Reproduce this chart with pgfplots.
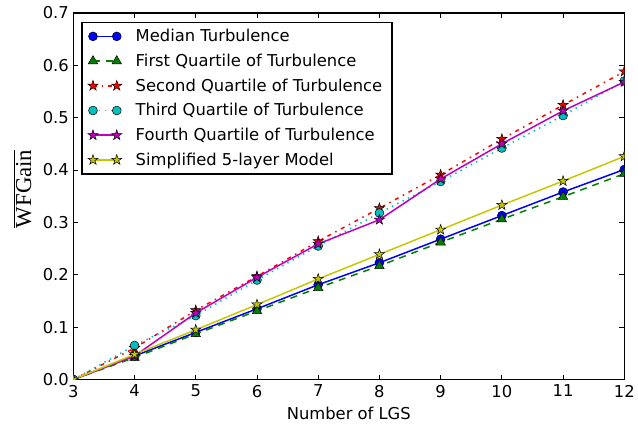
\documentclass[border=0pt]{standalone}
\usepackage{pgfplots}
\pgfplotsset{compat=1.18}
\usepackage{fontspec}
\setmainfont{DejaVu Sans}
\newfontfamily\serifl{Liberation Serif}
\definecolor{mblue}{rgb}{0,0,1}
\definecolor{mgreen}{rgb}{0,0.5,0}
\definecolor{mred}{rgb}{1,0,0}
\definecolor{mcyan}{rgb}{0,0.75,0.75}
\definecolor{mmag}{rgb}{0.75,0,0.75}
\definecolor{myel}{rgb}{0.78,0.78,0}
\pgfdeclareplotmark{fstar}{%
  \pgfpathmoveto{\pgfpointpolar{90}{1.2\pgfplotmarksize}}%
  \pgfpathlineto{\pgfpointpolar{126}{0.46\pgfplotmarksize}}%
  \pgfpathlineto{\pgfpointpolar{162}{1.2\pgfplotmarksize}}%
  \pgfpathlineto{\pgfpointpolar{198}{0.46\pgfplotmarksize}}%
  \pgfpathlineto{\pgfpointpolar{234}{1.2\pgfplotmarksize}}%
  \pgfpathlineto{\pgfpointpolar{270}{0.46\pgfplotmarksize}}%
  \pgfpathlineto{\pgfpointpolar{306}{1.2\pgfplotmarksize}}%
  \pgfpathlineto{\pgfpointpolar{342}{0.46\pgfplotmarksize}}%
  \pgfpathlineto{\pgfpointpolar{18}{1.2\pgfplotmarksize}}%
  \pgfpathlineto{\pgfpointpolar{54}{0.46\pgfplotmarksize}}%
  \pgfpathclose
  \pgfusepathqfillstroke
}
\begin{document}
\begin{tikzpicture}
\begin{axis}[
  scale only axis,
  width=556pt, height=370pt,
  xmin=3, xmax=12, ymin=0, ymax=0.7,
  xtick={3,4,5,6,7,8,9,10,11,12},
  ytick={0,0.1,0.2,0.3,0.4,0.5,0.6,0.7},
  /pgf/number format/assume math mode=true,
  tick label style={font=\fontsize{16.5}{19}\selectfont},
  xticklabel style={yshift=-2pt},
  yticklabel style={xshift=-1pt, /pgf/number format/.cd, fixed, fixed zerofill, precision=1},
  major tick length=5pt,
  tick style={black, line width=0.8pt},
  axis line style={line width=1.4pt},
  minor tick num=0,
  clip marker paths=true,
  xlabel={Number of LGS},
  xlabel style={font=\fontsize{16.5}{19}\selectfont, yshift=-3pt},
  ylabel={\serifl\fontsize{23}{26}\selectfont$\overline{\hbox{WFGain}}$},
  ylabel style={at={(axis description cs:-0.092,0.52)}, anchor=center},
  legend image code/.code={\draw[mark repeat=1,mark phase=1,#1] plot coordinates {(0pt,0pt) (24pt,0pt)};},
  legend cell align=left,
  legend style={at={(0,1)}, anchor=north west, xshift=8pt, yshift=-9pt,
    draw=black, line width=1.4pt, inner xsep=6pt, inner ysep=6pt,
    font=\fontsize{16.5}{19}\selectfont, row sep=8.9pt,
    nodes={inner xsep=4pt, inner ysep=1pt, line width=0.6pt}},
  /tikz/every odd column/.append style={column sep=10pt},
]
\addplot[mblue, line width=1.5pt, mark=*, mark size=4.5pt, mark options={fill=mblue, draw=black, line width=0.5pt, solid}]
 coordinates {(3,0)(4,0.045)(5,0.09)(6,0.135)(7,0.181)(8,0.223)(9,0.268)(10,0.313)(11,0.358)(12,0.401)};
\addlegendentry{Median Turbulence}
\addplot[mgreen, line width=1.5pt, dash pattern=on 7pt off 6pt, mark=triangle*, mark size=5.5pt, mark options={fill=mgreen, draw=black, line width=0.5pt, solid}]
 coordinates {(3,0)(4,0.042)(5,0.087)(6,0.131)(7,0.175)(8,0.217)(9,0.262)(10,0.306)(11,0.349)(12,0.393)};
\addlegendentry{First Quartile of Turbulence}
\addplot[mred, line width=1.5pt, dash pattern=on 4pt off 5pt on 1.5pt off 5pt, mark=fstar, mark size=4.5pt, mark options={fill=mred, draw=black, line width=0.5pt, solid}]
 coordinates {(3,0)(4,0.06)(5,0.132)(6,0.197)(7,0.264)(8,0.327)(9,0.391)(10,0.459)(11,0.524)(12,0.588)};
\addlegendentry{Second Quartile of Turbulence}
\addplot[mcyan, line width=1.5pt, dash pattern=on 1.5pt off 4.5pt, mark=*, mark size=4.5pt, mark options={fill=mcyan, draw=black, line width=0.5pt, solid}]
 coordinates {(3,0)(4,0.065)(5,0.122)(6,0.19)(7,0.255)(8,0.318)(9,0.378)(10,0.442)(11,0.504)(12,0.57)};
\addlegendentry{Third Quartile of Turbulence}
\addplot[mmag, line width=1.5pt, mark=fstar, mark size=4.5pt, mark options={fill=mmag, draw=black, line width=0.5pt, solid}]
 coordinates {(3,0)(4,0.045)(5,0.127)(6,0.195)(7,0.259)(8,0.305)(9,0.383)(10,0.45)(11,0.513)(12,0.568)};
\addlegendentry{Fourth Quartile of Turbulence}
\addplot[myel, line width=1.5pt, mark=fstar, mark size=4.5pt, mark options={fill=myel, draw=black, line width=0.5pt, solid}]
 coordinates {(3,0)(4,0.048)(5,0.095)(6,0.143)(7,0.192)(8,0.239)(9,0.286)(10,0.333)(11,0.379)(12,0.426)};
\addlegendentry{Simplified 5-layer Model}
\end{axis}
\path ([shift={(-74pt,-52pt)}]current axis.south west) rectangle ([shift={(9pt,13pt)}]current axis.north east);
\end{tikzpicture}
\end{document}
